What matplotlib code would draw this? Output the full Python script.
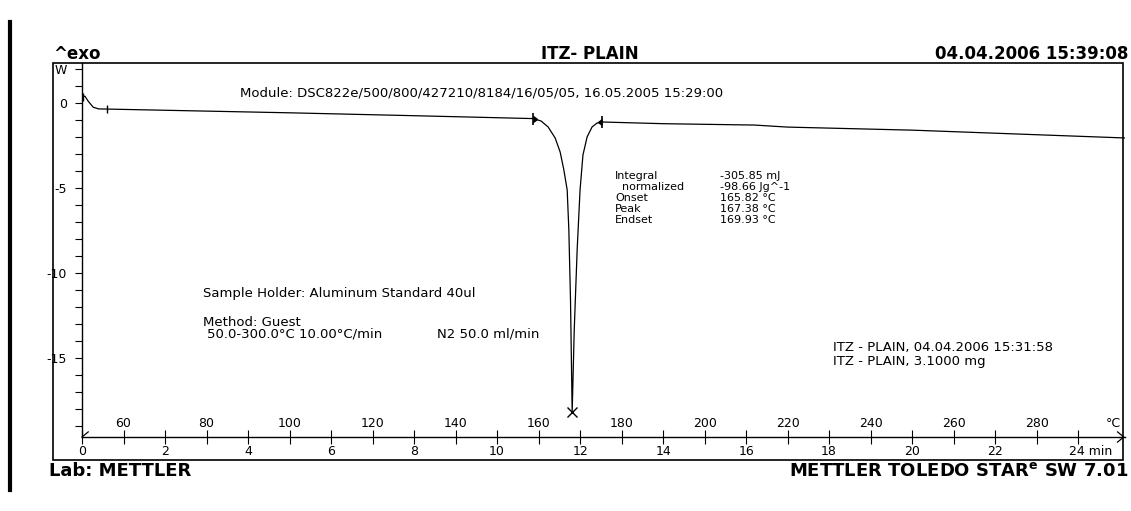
import matplotlib
matplotlib.use("Agg")
import matplotlib.pyplot as plt
import numpy as np
from matplotlib.lines import Line2D
from matplotlib.patches import Rectangle

# DSC curve (time in min, heat flow)
time_min = [0.0, 0.07, 0.15, 0.27, 0.4, 1.0, 3.0, 5.0, 8.0,
            10.87, 11.06, 11.23, 11.40, 11.52, 11.61, 11.69, 11.73, 11.77, 11.81,
            11.86, 11.93, 12.0, 12.07, 12.17, 12.29, 12.41, 12.53,
            14.0, 16.2, 17.0, 20.0, 25.13]
heat_flow = [0.35, 0.4, 0.1, -0.25, -0.35, -0.38, -0.48, -0.58, -0.75,
             -0.92, -1.06, -1.41, -2.06, -2.88, -3.94, -5.12, -7.47, -11.6, -18.2,
             -13.35, -8.65, -5.12, -3.06, -2.0, -1.41, -1.18, -1.12,
             -1.22, -1.3, -1.42, -1.6, -2.06]

limits_t = [10.87, 12.53]
limits_v = [-0.92, -1.12]
peak_t, peak_v = 11.81, -18.2

y_ticks = list(range(-19, 3))
y_labels = {2: "W", 0: "0", -5: "-5", -10: "-10", -15: "-15"}
time_ticks = list(range(0, 25))
temp_labels = [60, 80, 100, 120, 140, 160, 180, 200, 220, 240, 260, 280]

results = [("Integral", "-305.85 mJ"), ("  normalized", "-98.66 Jg^-1"),
           ("Onset", "165.82 °C"), ("Peak", "167.38 °C"), ("Endset", "169.93 °C")]

W, H = 1131, 511
fig = plt.figure(figsize=(W / 100, H / 100), dpi=100)
fig.patch.set_facecolor("white")


def fx(x):
    return x / W


def fy(y):
    return 1 - y / H


ax = fig.add_axes([fx(82), fy(437), fx(1125 - 82), (437 - 63) / H])
ax.set_xlim(0, 25.13)
ax.set_ylim(-19.65, 2.35)
ax.spines["top"].set_visible(False)
ax.spines["right"].set_visible(False)
for s in ("left", "bottom"):
    ax.spines[s].set_linewidth(1.0)

ax.plot(time_min, heat_flow, color="black", lw=0.9)
ax.plot([0.02], [0.35], marker="|", ms=6, color="black", mew=1)
ax.plot([0.6], [-0.38], marker="|", ms=6, color="black", mew=1)
ax.plot(limits_t, limits_v, ls="none", marker="|", ms=8, color="black", mew=1.2)
ax.plot(limits_t[0], limits_v[0], marker=9, ms=4, color="black")
ax.plot(limits_t[1], limits_v[1], marker=8, ms=4, color="black")
ax.plot(peak_t, peak_v, marker="x", ms=7, color="black", mew=1)

ax.set_yticks(y_ticks)
ax.set_yticklabels([y_labels.get(v, "") for v in y_ticks])
ax.tick_params(axis="y", direction="out", length=5, width=0.8, labelsize=9, pad=6)

ax.set_xticks(time_ticks)
ax.set_xticklabels([str(t) if t % 2 == 0 and t < 24 else "" for t in time_ticks])
ax.tick_params(axis="x", direction="inout", length=10, width=0.8, labelsize=9, pad=1)
ax.text(23.78, -20.5, "24 min", fontsize=9, ha="left", va="center")

for T in temp_labels:
    ax.text((T - 50) / 10, -18.85, str(T), fontsize=9, ha="center", va="center")
ax.text(24.84, -18.85, "°C", fontsize=9, ha="center", va="center")

# arrow end and start mark of the axis
ax.plot([24.95, 25.1, 24.95], [-19.35, -19.65, -19.95], color="black", lw=0.9, clip_on=False)
ax.plot([0.0, 0.15], [-19.65, -19.35], color="black", lw=0.9, clip_on=False)

# frame and scan bar
fig.add_artist(Rectangle((fx(53), fy(460)), fx(1123 - 53), (460 - 63) / H,
                         fill=False, lw=1.2, ec="black", transform=fig.transFigure))
fig.add_artist(Line2D([fx(10), fx(10)], [fy(22), fy(490)], lw=3, color="black"))

bold = dict(fontsize=12, fontweight="bold", va="center")
fig.text(fx(53), fy(54), "^exo", ha="left", **bold)
fig.text(fx(590), fy(54), "ITZ- PLAIN", ha="center", **bold)
fig.text(fx(1128), fy(54), "04.04.2006 15:39:08", ha="right", **bold)
bold["fontsize"] = 13
fig.text(fx(49), fy(471), "Lab: METTLER", ha="left", **bold)
fig.text(fx(1128), fy(471), r"METTLER TOLEDO STAR$^\mathbf{e}$ SW 7.01", ha="right", **bold)

small = dict(fontsize=9.5, va="center", ha="left")
fig.text(fx(240), fy(93), "Module: DSC822e/500/800/427210/8184/16/05/05, 16.05.2005 15:29:00", **small)
for i, (name, val) in enumerate(results):
    y = 176 + i * 11
    fig.text(fx(615), fy(y), name, fontsize=8, va="center", ha="left")
    fig.text(fx(720), fy(y), val, fontsize=8, va="center", ha="left")

fig.text(fx(203), fy(294), "Sample Holder: Aluminum Standard 40ul", **small)
fig.text(fx(203), fy(322), "Method: Guest", **small)
fig.text(fx(207), fy(334), "50.0-300.0°C 10.00°C/min", **small)
fig.text(fx(437), fy(334), "N2 50.0 ml/min", **small)
fig.text(fx(833), fy(348), "ITZ - PLAIN, 04.04.2006 15:31:58", **small)
fig.text(fx(833), fy(361), "ITZ - PLAIN, 3.1000 mg", **small)

fig.savefig("out.png", dpi=100)
